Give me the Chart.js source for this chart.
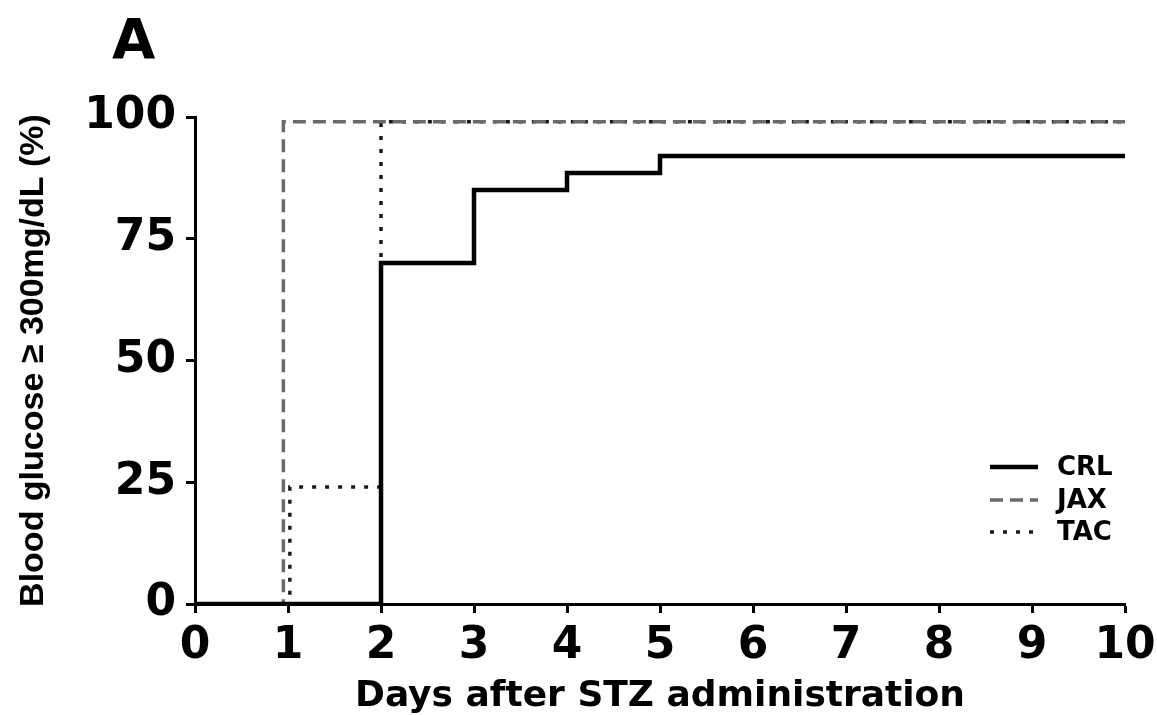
<!DOCTYPE html>
<html>
<head>
<meta charset="utf-8">
<script src="https://cdn.jsdelivr.net/npm/chart.js@4"></script>
<style>
    html, body { margin: 0; padding: 0; background: #fff; }
    #wrap { position: relative; width: 1157px; height: 715px; }
    #panel {
        position: absolute; left: 112px; top: 6px;
        font: bold 56px "DejaVu Sans"; color: #000;
    }
</style>
</head>
<body>
<div id="wrap">
    <canvas id="chart" width="1157" height="715"></canvas>
    <div id="panel">A</div>
</div>
<script>
const xTicks = [0, 1, 2, 3, 4, 5, 6, 7, 8, 9, 10]
const yTicks = [0, 25, 50, 75, 100]

const groups = ['CRL', 'JAX', 'TAC']

const crlDays = [0, 2, 3, 4, 5, 10]
const crlPct  = [0, 70, 85, 88.5, 92, 92]
const jaxDays = [0, 0.95, 10]
const jaxPct  = [0, 99, 99]
const tacDays = [0, 1.02, 2, 10]
const tacPct  = [0, 24, 99, 99]

const toPoints = (xs, ys) => xs.map((x, i) => ({ x: x, y: ys[i] }))

const styles = [
    { borderColor: '#000000', borderWidth: 4.5, borderDash: [] },
    { borderColor: '#6a6a6a', borderWidth: 3.5, borderDash: [13, 7] },
    { borderColor: '#1a1a1a', borderWidth: 3.5, borderDash: [4, 9] }
]
const series = [toPoints(crlDays, crlPct), toPoints(jaxDays, jaxPct), toPoints(tacDays, tacPct)]

// legend drawn inside plot, lower right
const cornerLegend = {
    id: 'cornerLegend',
    afterDraw(chart) {
        const c = chart.ctx
        const x0 = 990, x1 = 1038, tx = 1057
        const rows = [467, 500, 532]
        c.save()
        chart.data.datasets.forEach((ds, i) => {
            c.beginPath()
            c.strokeStyle = ds.borderColor
            c.lineWidth   = ds.borderWidth
            c.setLineDash(ds.borderDash)
            c.moveTo(x0, rows[i])
            c.lineTo(x1, rows[i])
            c.stroke()
            c.setLineDash([])
            c.fillStyle    = '#000'
            c.font         = 'bold 26px "DejaVu Sans"'
            c.textBaseline = 'middle'
            c.fillText(ds.label, tx, rows[i] + 1)
        })
        c.restore()
    }
}

new Chart(document.getElementById('chart'), {
    type: 'line',
    data: {
        datasets: groups.map((g, i) => ({
            label: g,
            data: series[i],
            stepped: true,
            fill: false,
            pointRadius: 0,
            ...styles[i]
        }))
    },
    options: {
        responsive: false,
        animation: false,
        layout: { padding: { left: 0, top: 117, right: 32, bottom: 0 } },
        plugins: { legend: { display: false }, tooltip: { enabled: false } },
        scales: {
            x: {
                type: 'linear',
                min: 0, max: 10,
                z: 1,
                afterBuildTicks: s => { s.ticks = xTicks.map(v => ({ value: v })) },
                afterFit: s => { s.height = 111; s.paddingLeft = 0; s.paddingRight = 0 },
                ticks: { color: '#000', font: { family: 'DejaVu Sans', size: 44, weight: 'bold' }, padding: 7, maxRotation: 0 },
                grid: { drawOnChartArea: false, drawTicks: true, tickLength: 9, tickWidth: 3, color: '#000' },
                border: { display: true, color: '#000', width: 3 },
                title: {
                    display: true,
                    text: 'Days after STZ administration',
                    color: '#000',
                    font: { family: 'DejaVu Sans', size: 36, weight: 'bold', lineHeight: 1 },
                    padding: { top: 0, bottom: 0 }
                }
            },
            y: {
                min: 0, max: 100,
                z: 1,
                afterBuildTicks: s => { s.ticks = yTicks.map(v => ({ value: v })) },
                afterFit: s => { s.width = 195; s.paddingTop = 0; s.paddingBottom = 0 },
                ticks: { color: '#000', font: { family: 'DejaVu Sans', size: 44, weight: 'bold' }, padding: 10 },
                grid: { drawOnChartArea: false, drawTicks: true, tickLength: 9, tickWidth: 3, color: '#000' },
                border: { display: true, color: '#000', width: 3 },
                title: {
                    display: true,
                    text: 'Blood glucose ≥ 300mg/dL (%)',
                    color: '#000',
                    font: { family: 'Liberation Sans', size: 34, weight: 'bold', lineHeight: 1.2 },
                    padding: { top: 13, bottom: 0 }
                }
            }
        }
    },
    plugins: [cornerLegend]
})
</script>
</body>
</html>
